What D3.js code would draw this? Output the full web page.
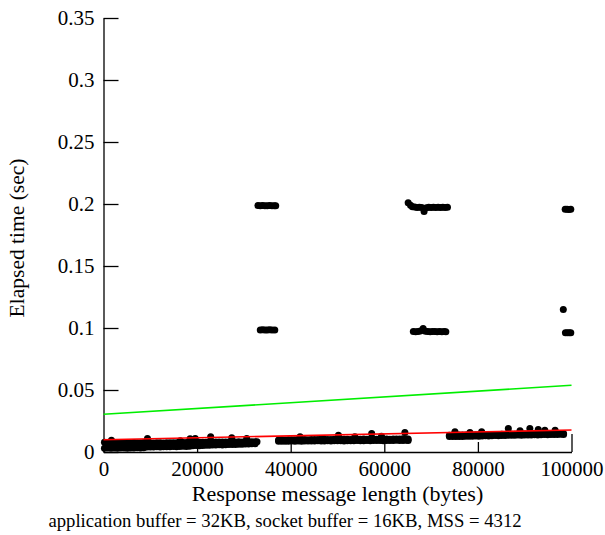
<!DOCTYPE html>
<html>
<head>
<meta charset="utf-8">
<script src="https://cdn.jsdelivr.net/npm/d3@7"></script>
<style>
  html, body { margin: 0; padding: 0; background: #fff; }
  svg text { font-family: "Liberation Serif", "Times New Roman", serif; fill: #000; }
</style>
</head>
<body>
<svg id="chart" width="605" height="535"></svg>
<script>
// Axis ticks
const lengthTicks = [0, 20000, 40000, 60000, 80000, 100000];
const timeTicks = [0, 0.05, 0.1, 0.15, 0.2, 0.25, 0.3, 0.35];

// Bulk of the runs: two samples per message length in each band
const band1Len = [200, 900, 1600, 2300, 3000, 3700, 4400, 5100, 5800, 6500, 7200, 7900, 8600, 9300, 10000, 10700, 11400, 12100, 12800, 13500, 14200, 14900, 15600, 16300, 17000, 17700, 18400, 19100, 19800, 20500, 21200, 21900, 22600, 23300, 24000, 24700, 25400, 26100, 26800, 27500, 28200, 28900, 29600, 30300, 31000, 31700, 32400];
const band1Slow = [0.0079, 0.0077, 0.0078, 0.0076, 0.0077, 0.0075, 0.0076, 0.0074, 0.0075, 0.0076, 0.0074, 0.0075, 0.0076, 0.0073, 0.0074, 0.0073, 0.0075, 0.0074, 0.0073, 0.0074, 0.0075, 0.0074, 0.0075, 0.0076, 0.0077, 0.0076, 0.0078, 0.0077, 0.0078, 0.0079, 0.0078, 0.0079, 0.0080, 0.0079, 0.0080, 0.0081, 0.0080, 0.0081, 0.0080, 0.0082, 0.0081, 0.0082, 0.0081, 0.0083, 0.0082, 0.0083, 0.0082];
const band1Fast = [0.0031, 0.0032, 0.0030, 0.0032, 0.0031, 0.0033, 0.0032, 0.0031, 0.0033, 0.0032, 0.0034, 0.0033, 0.0035, 0.0040, 0.0041, 0.0040, 0.0042, 0.0041, 0.0042, 0.0043, 0.0042, 0.0044, 0.0043, 0.0045, 0.0046, 0.0045, 0.0047, 0.0050, 0.0052, 0.0051, 0.0053, 0.0054, 0.0055, 0.0056, 0.0057, 0.0058, 0.0057, 0.0059, 0.0060, 0.0061, 0.0060, 0.0062, 0.0063, 0.0064, 0.0065, 0.0066, 0.0067];

const band2Len = [37400, 38100, 38800, 39500, 40200, 40900, 41600, 42300, 43000, 43700, 44400, 45100, 45800, 46500, 47200, 47900, 48600, 49300, 50000, 50700, 51400, 52100, 52800, 53500, 54200, 54900, 55600, 56300, 57000, 57700, 58400, 59100, 59800, 60500, 61200, 61900, 62600, 63300, 64000, 64700, 65100];
const band2Slow = [0.0097, 0.0098, 0.0097, 0.0099, 0.0098, 0.0099, 0.0100, 0.0099, 0.0100, 0.0099, 0.0101, 0.0100, 0.0101, 0.0100, 0.0102, 0.0101, 0.0100, 0.0102, 0.0101, 0.0102, 0.0103, 0.0102, 0.0101, 0.0103, 0.0102, 0.0103, 0.0104, 0.0103, 0.0102, 0.0104, 0.0103, 0.0104, 0.0105, 0.0104, 0.0103, 0.0105, 0.0104, 0.0105, 0.0106, 0.0105, 0.0104];
const band2Fast = [0.0086, 0.0087, 0.0086, 0.0087, 0.0088, 0.0087, 0.0088, 0.0087, 0.0089, 0.0088, 0.0089, 0.0088, 0.0090, 0.0089, 0.0088, 0.0090, 0.0089, 0.0090, 0.0091, 0.0090, 0.0089, 0.0091, 0.0090, 0.0091, 0.0092, 0.0091, 0.0090, 0.0092, 0.0091, 0.0092, 0.0093, 0.0092, 0.0091, 0.0093, 0.0092, 0.0093, 0.0094, 0.0093, 0.0092, 0.0094, 0.0093];

const band3Len = [73900, 74600, 75300, 76000, 76700, 77400, 78100, 78800, 79500, 80200, 80900, 81600, 82300, 83000, 83700, 84400, 85100, 85800, 86500, 87200, 87900, 88600, 89300, 90000, 90700, 91400, 92100, 92800, 93500, 94200, 94900, 95600, 96300, 97000, 97700, 98300];
const band3Slow = [0.0136, 0.0137, 0.0136, 0.0138, 0.0137, 0.0138, 0.0139, 0.0138, 0.0140, 0.0139, 0.0140, 0.0141, 0.0140, 0.0141, 0.0142, 0.0141, 0.0143, 0.0142, 0.0143, 0.0144, 0.0143, 0.0145, 0.0144, 0.0145, 0.0146, 0.0145, 0.0147, 0.0146, 0.0147, 0.0148, 0.0147, 0.0149, 0.0148, 0.0149, 0.0150, 0.0149];
const band3Fast = [0.0124, 0.0125, 0.0125, 0.0126, 0.0126, 0.0127, 0.0128, 0.0127, 0.0129, 0.0128, 0.0130, 0.0131, 0.0130, 0.0132, 0.0133, 0.0132, 0.0134, 0.0133, 0.0135, 0.0136, 0.0135, 0.0137, 0.0136, 0.0137, 0.0138, 0.0137, 0.0139, 0.0138, 0.0140, 0.0141, 0.0140, 0.0142, 0.0141, 0.0142, 0.0143, 0.0142];

// Slower single samples sitting above the bands
const spikeLen = [1700, 9400, 16400, 18500, 19600, 22900, 27400, 30600, 32800, 42000, 46600, 50200, 53700, 57300, 59400, 64400, 75100, 78300, 80800, 86500, 89000, 91100, 92900, 94300, 96500];
const spikeTime = [0.0095, 0.0109, 0.0090, 0.0107, 0.0108, 0.0123, 0.0115, 0.0109, 0.0083, 0.0123, 0.0109, 0.0135, 0.0123, 0.0149, 0.0127, 0.0157, 0.0163, 0.0157, 0.0163, 0.0190, 0.0171, 0.0190, 0.0181, 0.0176, 0.0176];

// Delayed-ACK stalls (~0.2 s) and ~0.1 s stalls
const stall200Len = [33000, 33500, 34000, 34500, 35000, 35500, 36000, 36500, 36800, 65100, 65600, 66000, 66500, 67000, 67500, 68000, 68500, 69000, 69500, 70000, 70500, 71000, 71500, 72000, 72500, 73000, 73500, 98650, 99050, 99450, 99850];
const stall200Time = [0.1987, 0.1985, 0.1988, 0.1986, 0.1985, 0.1987, 0.1986, 0.1985, 0.1986, 0.2010, 0.1990, 0.1978, 0.1975, 0.1972, 0.1974, 0.1972, 0.1940, 0.1970, 0.1973, 0.1971, 0.1974, 0.1972, 0.1973, 0.1971, 0.1973, 0.1972, 0.1973, 0.1957, 0.1958, 0.1956, 0.1957];
const stall100Len = [33500, 34000, 34500, 35000, 35500, 36000, 36600, 66200, 66700, 67200, 67700, 68300, 68800, 69300, 69800, 70300, 70800, 71300, 71800, 72300, 72800, 73150, 98250, 98700, 99100, 99500, 99850];
const stall100Time = [0.0984, 0.0985, 0.0983, 0.0984, 0.0985, 0.0984, 0.0983, 0.0971, 0.0970, 0.0972, 0.0975, 0.0996, 0.0974, 0.0971, 0.0970, 0.0972, 0.0971, 0.0970, 0.0971, 0.0970, 0.0971, 0.0970, 0.1150, 0.0962, 0.0961, 0.0962, 0.0962];

// Fitted lines (endpoints)
const fitLen = [0, 100000];
const fastFitTime = [0.0099, 0.0177];
const slowFitTime = [0.0304, 0.0538];

const SERIF = '"Liberation Serif", "Times New Roman", serif';
const svg = d3.select("#chart");
const x = d3.scaleLinear().domain([0, 100000]).range([103.5, 571.5]);
const y = d3.scaleLinear().domain([0, 0.35]).range([452, 18]);

function pairs(xs, ys) { return xs.map((v, i) => [v, ys[i]]); }

const points = [].concat(
  pairs(band1Len, band1Slow), pairs(band1Len, band1Fast),
  pairs(band2Len, band2Slow), pairs(band2Len, band2Fast),
  pairs(band3Len, band3Slow), pairs(band3Len, band3Fast),
  pairs(spikeLen, spikeTime),
  pairs(stall200Len, stall200Time),
  pairs(stall100Len, stall100Time)
);

// Axes: ticks point into the plot
const yAxis = d3.axisLeft(y).tickValues(timeTicks).tickFormat(d3.format("~g"))
  .tickSizeInner(-15).tickSizeOuter(0).tickPadding(9);
const xAxis = d3.axisBottom(x).tickValues(lengthTicks).tickFormat(d3.format("d"))
  .tickSizeInner(-10).tickSizeOuter(0).tickPadding(9);

const gy = svg.append("g").attr("transform", `translate(${x(0)},0)`).call(yAxis);
const gx = svg.append("g").attr("transform", `translate(0,${y(0)})`).call(xAxis);

[gx, gy].forEach(g => {
  g.attr("font-family", SERIF).attr("font-size", 21);
  g.select(".domain").attr("stroke", "#000").attr("stroke-width", 1.3);
  g.selectAll(".tick line").attr("stroke", "#000").attr("stroke-width", 1.3);
  g.selectAll(".tick text").style("font-size", "21px")
    .style("font-family", SERIF).attr("fill", "#000");
});
// the closing tick at the end of the range is drawn longer
gx.selectAll(".tick").filter(d => d === 100000).select("line").attr("y2", -18);

// Samples
svg.append("g").selectAll("circle").data(points).join("circle")
  .attr("cx", d => x(d[0])).attr("cy", d => y(d[1])).attr("r", 3.5)
  .attr("fill", "#000");

// Fit lines
const line = d3.line().x(d => x(d[0])).y(d => y(d[1]));
svg.append("path").datum(pairs(fitLen, slowFitTime)).attr("d", line)
  .attr("fill", "none").attr("stroke", "#00ee00").attr("stroke-width", 1.6);
svg.append("path").datum(pairs(fitLen, fastFitTime)).attr("d", line)
  .attr("fill", "none").attr("stroke", "#ff0000").attr("stroke-width", 1.6);

// Titles
svg.append("text").attr("x", 337.5).attr("y", 501).attr("text-anchor", "middle")
  .style("font-family", SERIF).style("font-size", "22px").text("Response message length (bytes)");
svg.append("text").attr("transform", "translate(24,238) rotate(-90)").attr("text-anchor", "middle")
  .style("font-family", SERIF).style("font-size", "21.5px").text("Elapsed time (sec)");
svg.append("text").attr("x", 285).attr("y", 527).attr("text-anchor", "middle")
  .style("font-family", SERIF).style("font-size", "18.7px").text("application buffer = 32KB, socket buffer = 16KB, MSS = 4312");
</script>
</body>
</html>
